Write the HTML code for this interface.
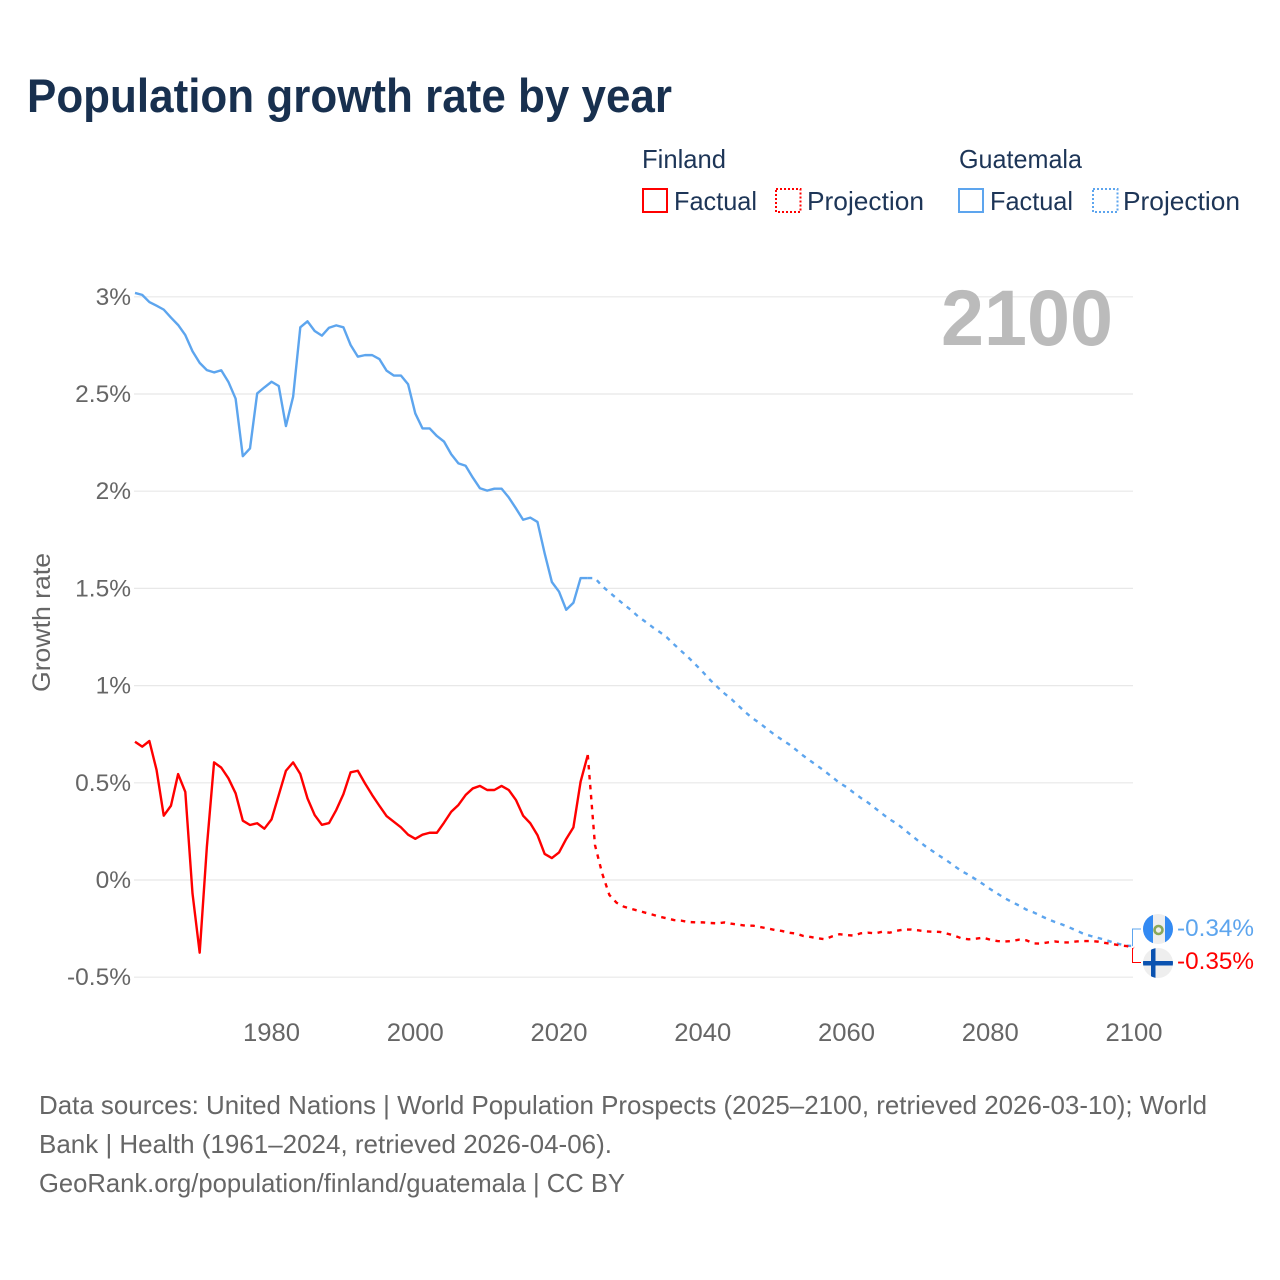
<!DOCTYPE html>
<html>
<head>
<meta charset="utf-8">
<title>Population growth rate by year</title>
<style>
html,body{margin:0;padding:0;background:#fff;}
svg{display:block;font-family:"Liberation Sans",sans-serif;}
</style>
</head>
<body>
<svg id="chart" xmlns="http://www.w3.org/2000/svg" width="1280" height="1280" viewBox="0 0 1280 1280">
  <rect x="0" y="0" width="1280" height="1280" fill="#ffffff"/>
  <text x="27" y="112" font-size="47" font-weight="700" fill="#18304f" textLength="645" lengthAdjust="spacingAndGlyphs">Population growth rate by year</text>

  <g font-size="26" fill="#1d3557">
    <text x="642" y="168" textLength="84" lengthAdjust="spacingAndGlyphs">Finland</text>
    <text x="959" y="168" textLength="123" lengthAdjust="spacingAndGlyphs">Guatemala</text>
    <rect x="643" y="189" width="24" height="23" fill="none" stroke="#ff0000" stroke-width="2"/>
    <text x="674" y="210" textLength="83" lengthAdjust="spacingAndGlyphs">Factual</text>
    <rect x="776" y="189" width="24.5" height="23" fill="none" stroke="#ff0000" stroke-width="2" stroke-dasharray="2 2"/>
    <text x="807" y="210" textLength="117" lengthAdjust="spacingAndGlyphs">Projection</text>
    <rect x="959" y="189" width="24" height="23" fill="none" stroke="#5da5ee" stroke-width="2"/>
    <text x="990" y="210" textLength="83" lengthAdjust="spacingAndGlyphs">Factual</text>
    <rect x="1093" y="189" width="24.5" height="23" fill="none" stroke="#5da5ee" stroke-width="2" stroke-dasharray="2 2"/>
    <text x="1123" y="210" textLength="117" lengthAdjust="spacingAndGlyphs">Projection</text>
  </g>

  <g id="grid"></g>
  <g id="yticks"></g>
  <g id="xticks"></g>

  <text transform="translate(50 692) rotate(-90)" x="0" y="0" font-size="25" fill="#666666" textLength="139" lengthAdjust="spacingAndGlyphs">Growth rate</text>
  <text x="941" y="345" font-size="79" font-weight="700" fill="#bbbbbb" textLength="172" lengthAdjust="spacingAndGlyphs">2100</text>

  <g id="series"></g>
  <g id="connectors"></g>

  <g>
    <clipPath id="clip-gt"><circle cx="1158" cy="929" r="15"/></clipPath>
    <g clip-path="url(#clip-gt)">
      <rect x="1143" y="914" width="30" height="30" fill="#eeeeee"/>
      <rect x="1143" y="914" width="10" height="30" fill="#338af3"/>
      <rect x="1165" y="914" width="8" height="30" fill="#338af3"/>
    </g>
    <circle cx="1158.5" cy="930" r="4" fill="none" stroke="#8aa85a" stroke-width="2.6"/>
  </g>
  <g>
    <clipPath id="clip-fi"><circle cx="1158" cy="963" r="15"/></clipPath>
    <g clip-path="url(#clip-fi)">
      <rect x="1143" y="948" width="30" height="30" fill="#eeeeee"/>
      <rect x="1151" y="948" width="4.5" height="30" fill="#0a52b0"/>
      <rect x="1143" y="961" width="30" height="4.5" fill="#0a52b0"/>
    </g>
  </g>
  <text id="label-gt" x="1177" y="936" font-size="24" fill="#5da5ee" textLength="77" lengthAdjust="spacingAndGlyphs"></text>
  <text id="label-fi" x="1177" y="969" font-size="24" fill="#ff0000" textLength="77" lengthAdjust="spacingAndGlyphs"></text>

  <g font-size="26" fill="#666666">
    <text x="39" y="1114" textLength="1168" lengthAdjust="spacingAndGlyphs">Data sources: United Nations | World Population Prospects (2025–2100, retrieved 2026-03-10); World</text>
    <text x="39" y="1153" textLength="573" lengthAdjust="spacingAndGlyphs">Bank | Health (1961–2024, retrieved 2026-04-06).</text>
    <text x="39" y="1192" textLength="586" lengthAdjust="spacingAndGlyphs">GeoRank.org/population/finland/guatemala | CC BY</text>
  </g>
</svg>
<script>
var factualStartYear = 1961;
var projectionStartYear = 2024;
var yTickValues = [3, 2.5, 2, 1.5, 1, 0.5, 0, -0.5];
var yTickLabels = ["3%", "2.5%", "2%", "1.5%", "1%", "0.5%", "0%", "-0.5%"];
var xTickYears = [1980, 2000, 2020, 2040, 2060, 2080, 2100];
var finlandFactual = [
  .711,.686,.715,.566,.331,.382,.545,.453,-.069,-.374,
  .171,.605,.578,.523,.446,.305,.283,.292,.264,.312,
  .437,.562,.605,.545,.42,.334,.284,.293,.36,.442,
  .554,.562,.497,.437,.382,.329,.30,.271,.233,.212,
  .233,.243,.243,.295,.351,.386,.437,.471,.484,.463,
  .463,.484,.463,.412,.331,.292,.231,.134,.113,.142,
  .211,.271,.506,.643
];
var guatemalaFactual = [
  3.02,3.01,2.973,2.954,2.934,2.893,2.855,2.803,2.72,2.66,
  2.623,2.611,2.622,2.562,2.476,2.18,2.22,2.503,2.534,2.563,
  2.541,2.335,2.486,2.843,2.874,2.824,2.80,2.841,2.853,2.843,
  2.752,2.692,2.70,2.70,2.68,2.62,2.595,2.595,2.55,2.40,
  2.323,2.323,2.284,2.255,2.19,2.143,2.131,2.07,2.015,2.003,
  2.013,2.013,1.968,1.912,1.853,1.864,1.842,1.68,1.533,1.483,
  1.39,1.426,1.553,1.553
];
var finlandProjection = [
  .643,.18,.034,-.077,-.117,-.137,-.148,-.158,-.168,-.178,
  -.189,-.197,-.206,-.209,-.216,-.218,-.218,-.221,-.223,-.218,
  -.225,-.230,-.235,-.235,-.242,-.249,-.257,-.262,-.271,-.276,
  -.288,-.293,-.300,-.305,-.290,-.279,-.283,-.286,-.274,-.271,
  -.274,-.266,-.271,-.261,-.255,-.255,-.259,-.264,-.266,-.267,
  -.276,-.286,-.300,-.305,-.302,-.297,-.307,-.314,-.316,-.314,
  -.307,-.310,-.326,-.327,-.321,-.316,-.321,-.321,-.316,-.314,
  -.314,-.317,-.324,-.329,-.336,-.340,-.35
];
var guatemalaProjection = [
  1.553,1.553,1.512,1.480,1.449,1.418,1.389,1.356,1.329,1.301,
  1.276,1.248,1.212,1.178,1.145,1.108,1.070,1.030,.994,.960,
  .930,.895,.861,.830,.805,.775,.747,.722,.698,.669,
  .639,.612,.586,.559,.530,.500,.478,.449,.422,.398,
  .369,.340,.312,.290,.261,.230,.201,.173,.148,.123,
  .099,.072,.046,.026,.003,-.021,-.047,-.070,-.093,-.113,
  -.131,-.152,-.166,-.184,-.201,-.216,-.229,-.244,-.260,-.277,
  -.288,-.298,-.308,-.320,-.330,-.338,-.34
];

var SVGNS = "http://www.w3.org/2000/svg";
var RED = "#ff0000";
var BLUE = "#5da5ee";
function xScale(year) { return 135 + (year - 1961) * (999 / 139); }
function yScale(value) { return 880 - value * 194.4; }
function make(tag, parent, attrs) {
  var el = document.createElementNS(SVGNS, tag);
  for (var k in attrs) el.setAttribute(k, attrs[k]);
  parent.appendChild(el);
  return el;
}
function linePath(startYear, values) {
  return values.map(function (v, i) {
    return (i ? "L" : "M") + xScale(startYear + i).toFixed(2) + " " + yScale(v).toFixed(2);
  }).join(" ");
}

var grid = document.getElementById("grid");
var yticks = document.getElementById("yticks");
yTickValues.forEach(function (v, i) {
  var line = make("line", grid, {x1: 134, x2: 1133, y1: yScale(v), y2: yScale(v), stroke: "#e8e8e8", "stroke-width": 1.2});
  
  
  var t = make("text", yticks, {x: 131, y: yScale(v) + 8, "text-anchor": "end", "font-size": 24.5, fill: "#666666"});
  
  
  t.textContent = yTickLabels[i];
});

var xticks = document.getElementById("xticks");
xTickYears.forEach(function (year) {
  var t = make("text", xticks, {x: xScale(year), y: 1041, "text-anchor": "middle", "font-size": 25, fill: "#666666", textLength: 57, lengthAdjust: "spacingAndGlyphs"});
  
  
  t.textContent = String(year);
});

var series = document.getElementById("series");
function drawLine(startYear, values, color, dashed, name) {
  var attrs = {d: linePath(startYear, values), fill: "none", stroke: color, "stroke-width": 2.4, "stroke-linejoin": "round"};
  if (dashed) attrs["stroke-dasharray"] = "4.5 5.5";
  var p = make("path", series, attrs);
  
  
}
drawLine(factualStartYear, guatemalaFactual, BLUE, false, "line-guatemala-factual");
drawLine(projectionStartYear, guatemalaProjection, BLUE, true, "line-guatemala-projection");
drawLine(factualStartYear, finlandFactual, RED, false, "line-finland-factual");
drawLine(projectionStartYear, finlandProjection, RED, true, "line-finland-projection");

var lastBlue = guatemalaProjection[guatemalaProjection.length - 1];
var lastRed = finlandProjection[finlandProjection.length - 1];
var connectors = document.getElementById("connectors");
var c1 = make("path", connectors, {d: "M1132.5 " + yScale(lastBlue) + " V929 H1141", fill: "none", stroke: BLUE, "stroke-width": 1});


var c2 = make("path", connectors, {d: "M1132.5 " + yScale(lastRed) + " V962.5 H1141", fill: "none", stroke: RED, "stroke-width": 1});


document.getElementById("label-gt").textContent = lastBlue.toFixed(2) + "%";
document.getElementById("label-fi").textContent = lastRed.toFixed(2) + "%";
</script>
</body>
</html>
